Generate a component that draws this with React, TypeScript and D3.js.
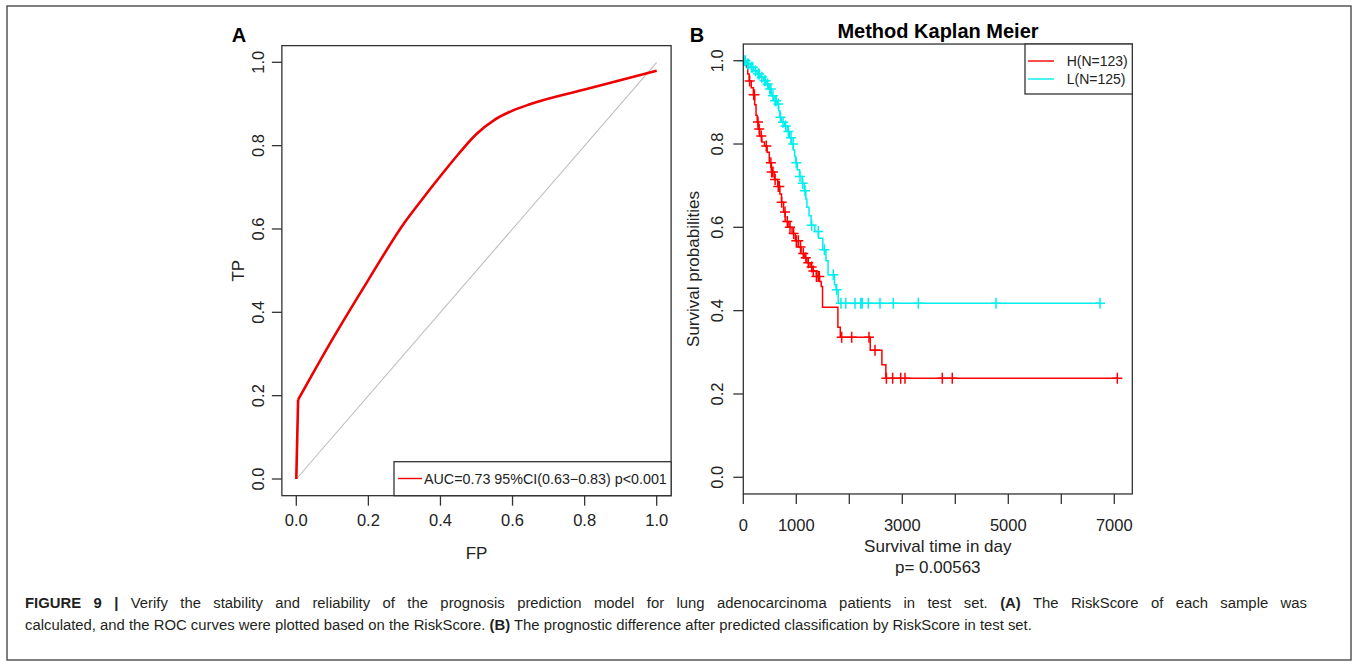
import { useRef, useLayoutEffect } from "react";
import * as d3 from "d3";

// ROC curve (panel A)
const rocFP = [0, 0.005, 0.1, 0.2, 0.3, 0.35, 0.4, 0.45, 0.5, 0.55, 0.6, 0.65, 0.8, 1.0];
const rocTP = [0, 0.19, 0.335, 0.478, 0.615, 0.672, 0.727, 0.78, 0.828, 0.862, 0.884, 0.9, 0.935, 0.98];
const unitTicks = [0, 0.2, 0.4, 0.6, 0.8, 1.0];
const rocLegend = "AUC=0.73 95%CI(0.63\u22120.83) p<0.001";

// Kaplan Meier (panel B): event times and survival after each drop
const hTimes = [30, 60, 85, 110, 150, 190, 215, 240, 262, 280, 310, 350, 400, 450, 490, 530, 590, 650, 690, 720, 760, 790, 860, 920, 980, 1040, 1090, 1150, 1200, 1260, 1320, 1380, 1440, 1470, 1495, 1785, 1830, 2395, 2615, 2690];
const hSurv = [0.992, 0.984, 0.968, 0.951, 0.935, 0.918, 0.894, 0.869, 0.853, 0.836, 0.819, 0.805, 0.795, 0.78, 0.755, 0.733, 0.715, 0.698, 0.68, 0.66, 0.637, 0.614, 0.6, 0.585, 0.568, 0.553, 0.537, 0.527, 0.515, 0.505, 0.495, 0.482, 0.47, 0.458, 0.408, 0.36, 0.336, 0.305, 0.27, 0.238];
const hCensor = [120, 196, 210, 277, 300, 340, 434, 520, 535, 560, 600, 660, 680, 724, 787, 830, 881, 950, 1000, 1038, 1080, 1132, 1180, 1226, 1290, 1321, 1380, 1415, 1434, 1856, 2045, 2372, 2485, 2700, 2818, 2970, 3051, 3755, 3943, 7057];

const lTimes = [60, 130, 200, 260, 320, 380, 430, 480, 530, 575, 640, 670, 690, 720, 780, 830, 870, 910, 945, 970, 990, 1020, 1060, 1110, 1150, 1180, 1200, 1240, 1280, 1350, 1420, 1500, 1560, 1600, 1720, 1750, 1790];
const lSurv = [0.992, 0.984, 0.976, 0.968, 0.96, 0.952, 0.944, 0.932, 0.916, 0.904, 0.896, 0.88, 0.864, 0.852, 0.843, 0.83, 0.815, 0.8, 0.785, 0.77, 0.755, 0.738, 0.722, 0.706, 0.688, 0.668, 0.648, 0.628, 0.605, 0.59, 0.574, 0.546, 0.52, 0.486, 0.462, 0.45, 0.418];
const lCensor = [10, 40, 80, 100, 150, 180, 230, 280, 300, 350, 400, 420, 460, 500, 520, 560, 600, 620, 660, 700, 750, 800, 850, 900, 940, 1000, 1070, 1120, 1165, 1290, 1415, 1530, 1698, 1762, 1843, 1932, 2108, 2215, 2245, 2358, 2579, 2830, 3302, 4768, 6730];

const kmXTicks = [0, 1000, 2000, 3000, 4000, 5000, 6000, 7000];
const kmXLabels = ["0", "1000", "", "3000", "", "5000", "", "7000"];
const groups = ["H(N=123)", "L(N=125)"];
const groupColors = ["#ff0000", "#00eeee"];

const FONT = "'Liberation Sans', Arial, Helvetica, sans-serif";
const AXIS = "#333";

function survAt(times: number[], surv: number[], t: number) {
  let s = 1;
  for (let i = 0; i < times.length; i++) if (times[i] <= t) s = surv[i];
  return s;
}

function RocPanel() {
  const x = d3.scaleLinear().domain([0, 1]).range([296.3, 656.7]);
  const y = d3.scaleLinear().domain([0, 1]).range([479, 62.3]);
  // the first jump is straight, the rest is drawn smooth
  const head = d3.line<number>().x((_, i) => x(rocFP[i])).y((d) => y(d));
  const tail = d3
    .line<number>()
    .x((_, i) => x(rocFP[i + 1]))
    .y((d) => y(d))
    .curve(d3.curveMonotoneX);
  const bx0 = x(-0.04), bx1 = x(1.04), by0 = y(1.04), by1 = y(-0.04);
  return (
    <g fontFamily={FONT}>
      <text x={239} y={42} fontSize={20} fontWeight="bold" textAnchor="middle">A</text>
      <line x1={x(0)} y1={y(0)} x2={x(1)} y2={y(1)} stroke="#bdbdbd" strokeWidth={1.1} />
      <path d={head(rocTP.slice(0, 2)) || ""} fill="none" stroke="#ee0000" strokeWidth={2.6} />
      <path d={tail(rocTP.slice(1)) || ""} fill="none" stroke="#ee0000" strokeWidth={2.6} strokeLinejoin="round" />
      <rect x={bx0} y={by0} width={bx1 - bx0} height={by1 - by0} fill="none" stroke={AXIS} strokeWidth={1.3} />
      {unitTicks.map((t) => (
        <g key={"x" + t}>
          <line x1={x(t)} x2={x(t)} y1={by1} y2={by1 + 10} stroke={AXIS} strokeWidth={1.3} />
          <text x={x(t)} y={526} fontSize={16.5} textAnchor="middle" fill="#222">{t.toFixed(1)}</text>
        </g>
      ))}
      {unitTicks.map((t) => (
        <g key={"y" + t}>
          <line x1={bx0 - 10} x2={bx0} y1={y(t)} y2={y(t)} stroke={AXIS} strokeWidth={1.3} />
          <text transform={`translate(258,${y(t)}) rotate(-90)`} dy="0.36em" fontSize={16.5} textAnchor="middle" fill="#222">{t.toFixed(1)}</text>
        </g>
      ))}
      <text x={476.5} y={559} fontSize={17} textAnchor="middle" fill="#222">FP</text>
      <text transform={`translate(238,${y(0.5)}) rotate(-90)`} dy="0.36em" fontSize={17} textAnchor="middle" fill="#222">TP</text>
      <rect x={394} y={461.7} width={bx1 - 394} height={by1 - 461.7} fill="#fff" stroke={AXIS} strokeWidth={1.3} />
      <line x1={398} x2={422} y1={478.5} y2={478.5} stroke="#ee0000" strokeWidth={1.4} />
      <text x={424} y={483.5} fontSize={14.3} fill="#222">{rocLegend}</text>
    </g>
  );
}

function KmPanel() {
  const x = d3.scaleLinear().domain([0, 7000]).range([743.3, 1114.3]);
  const y = d3.scaleLinear().domain([0, 1]).range([477.3, 60.7]);
  const bx0 = x(0), bx1 = x(7340), by0 = y(1.04), by1 = y(-0.04);
  const step = d3
    .line<[number, number]>()
    .x((d) => x(d[0]))
    .y((d) => y(d[1]))
    .curve(d3.curveStepAfter);
  const series = [
    { times: hTimes, surv: hSurv, censor: hCensor },
    { times: lTimes, surv: lSurv, censor: lCensor },
  ];
  return (
    <g fontFamily={FONT}>
      <text x={697} y={42} fontSize={20} fontWeight="bold" textAnchor="middle">B</text>
      <text x={938} y={38} fontSize={20} fontWeight="bold" textAnchor="middle">Method Kaplan Meier</text>
      {series.map((s, k) => {
        const last = s.censor[s.censor.length - 1];
        const pts: [number, number][] = [[0, 1], ...s.times.map((t, i) => [t, s.surv[i]] as [number, number]), [last, s.surv[s.surv.length - 1]]];
        const marks = s.censor
          .map((c) => {
            const cx = x(c), cy = y(survAt(s.times, s.surv, c));
            return `M${cx - 5},${cy}H${cx + 5}M${cx},${cy - 5.5}V${cy + 5.5}`;
          })
          .join("");
        return (
          <g key={k} fill="none" stroke={groupColors[k]} strokeWidth={1.5}>
            <path d={step(pts) || ""} />
            <path d={marks} />
          </g>
        );
      })}
      <rect x={bx0} y={by0} width={bx1 - bx0} height={by1 - by0} fill="none" stroke={AXIS} strokeWidth={1.3} />
      {kmXTicks.map((t, i) => (
        <g key={"x" + t}>
          <line x1={x(t)} x2={x(t)} y1={by1} y2={by1 + 10} stroke={AXIS} strokeWidth={1.3} />
          <text x={x(t)} y={531} fontSize={16.5} textAnchor="middle" fill="#222">{kmXLabels[i]}</text>
        </g>
      ))}
      {unitTicks.map((t) => (
        <g key={"y" + t}>
          <line x1={bx0 - 10} x2={bx0} y1={y(t)} y2={y(t)} stroke={AXIS} strokeWidth={1.3} />
          <text transform={`translate(717,${y(t)}) rotate(-90)`} dy="0.36em" fontSize={16.5} textAnchor="middle" fill="#222">{t.toFixed(1)}</text>
        </g>
      ))}
      <text x={937.8} y={552} fontSize={17} textAnchor="middle" fill="#222">Survival time in day</text>
      <text x={937.8} y={573} fontSize={17} textAnchor="middle" fill="#222">p= 0.00563</text>
      <text transform={`translate(693,${y(0.5)}) rotate(-90)`} dy="0.36em" fontSize={17} textAnchor="middle" fill="#222">Survival probabilities</text>
      <rect x={1025} y={by0} width={bx1 - 1025} height={94 - by0} fill="#fff" stroke={AXIS} strokeWidth={1.3} />
      {groups.map((g, i) => (
        <g key={g}>
          <line x1={1028} x2={1054} y1={61 + i * 18} y2={61 + i * 18} stroke={groupColors[i]} strokeWidth={1.4} />
          <text x={1066.7} y={66 + i * 18} fontSize={14} fill="#222">{g}</text>
        </g>
      ))}
    </g>
  );
}

function Caption() {
  const firstLine = useRef<SVGTextElement>(null);

  // justified first line: spread the words out to the right margin
  useLayoutEffect(() => {
    const el = firstLine.current;
    if (!el) return;
    el.setAttribute("word-spacing", "0");
    const w = el.getComputedTextLength();
    const gaps = 26;
    el.setAttribute("word-spacing", String(Math.max(0, (1282 - w) / gaps)));
  }, []);

  return (
    <g fontFamily={FONT} fontSize={14.85} fill="#231f20">
      <text ref={firstLine} x={25} y={608}>
        <tspan fontWeight="bold">FIGURE 9 |</tspan>
        <tspan> Verify the stability and reliability of the prognosis prediction model for lung adenocarcinoma patients in test set. </tspan>
        <tspan fontWeight="bold">(A)</tspan>
        <tspan> The RiskScore of each sample was</tspan>
      </text>
      <text x={25} y={630}>
        <tspan>calculated, and the ROC curves were plotted based on the RiskScore. </tspan>
        <tspan fontWeight="bold">(B)</tspan>
        <tspan> The prognostic difference after predicted classification by RiskScore in test set.</tspan>
      </text>
    </g>
  );
}

export default function App() {
  return (
    <svg
      width={1358}
      height={666}
      style={{ position: "absolute", left: 0, top: 0, background: "#fff" }}
    >
      <rect x={7} y={6} width={1344} height={654} fill="none" stroke="#555" strokeWidth={1.5} />
      <RocPanel />
      <KmPanel />
      <Caption />
    </svg>
  );
}
